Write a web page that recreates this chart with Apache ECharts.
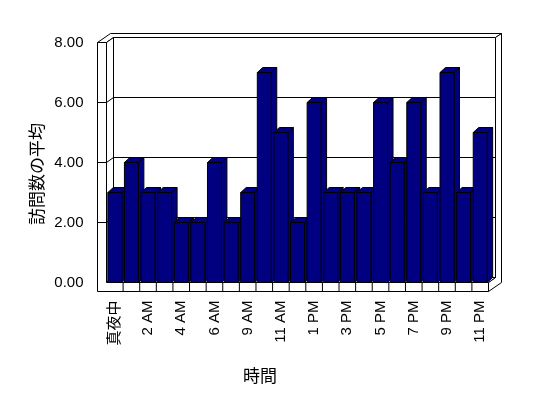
<!DOCTYPE html>
<html>
<head>
<meta charset="utf-8">
<script src="https://cdn.jsdelivr.net/npm/echarts@6/dist/echarts.min.js"></script>
<style>
html, body { margin: 0; padding: 0; background: #fff; }
#chart { width: 548px; height: 398px; }
</style>
</head>
<body>
<div id="chart"></div>
<script>
// 時間帯ごとの訪問数の平均
const hours = ['真夜中', '1 AM', '2 AM', '3 AM', '4 AM', '5 AM', '6 AM', '8 AM', '9 AM', '10 AM', '11 AM', '正午',
    '1 PM', '2 PM', '3 PM', '4 PM', '5 PM', '6 PM', '7 PM', '8 PM', '9 PM', '10 PM', '11 PM'];
const visits = [3, 4, 3, 3, 2, 2, 4, 2, 3, 7, 5, 2, 6, 3, 3, 3, 6, 4, 6, 3, 7, 3, 5];
const yTicks = [0, 2, 4, 6, 8];
const yTitle = '訪問数の平均';
const xTitle = '時間';

const FONT = "'Liberation Sans', Arial, 'Noto Sans CJK JP', sans-serif";
const NAVY = '#000080';
const WALL = 9;          // 壁・床の厚み
const D1 = [7, -5];      // 奥行き (前面 -> 背面の壁)
const D2 = [13, -9];     // 奥行き (壁の裏側まで)
const BD = [5.5, -5];    // 棒の奥行き

const line = (x1, y1, x2, y2) => ({
    type: 'line',
    shape: { x1, y1, x2, y2 },
    style: { stroke: '#000', lineWidth: 1 },
});
const poly = (points, fill) => ({
    type: 'polygon',
    shape: { points },
    style: { fill: fill, stroke: '#000', lineWidth: 1 },
});

/** 3D風の壁と床 */
function renderFrame(params, api) {
    const cs = params.coordSys;
    const L = cs.x, R = cs.x + cs.width, T = cs.y, B = cs.y + cs.height;
    const FL = L - WALL;
    const band = cs.width / hours.length;
    const kids = [];
    // 背面の壁
    kids.push(poly([[L + D1[0], T + D1[1]], [R + D1[0], T + D1[1]], [R + D1[0], B + D1[1]], [L + D1[0], B + D1[1]]], '#fff'));
    // 壁の上面
    kids.push(poly([[FL, T], [L, T], [L + D1[0], T + D1[1]], [R + D1[0], T + D1[1]],
        [R + D2[0], T + D2[1]], [FL + D2[0], T + D2[1]]], '#fff'));
    // 右側面
    kids.push(poly([[R + D1[0], T + D1[1]], [R + D2[0], T + D2[1]], [R + D2[0], B + WALL + D2[1]],
        [R, B + WALL], [R, B], [R + D1[0], B + D1[1]]], '#fff'));
    // 左の壁の内側と床の上面
    kids.push(poly([[L, T], [L + D1[0], T + D1[1]], [L + D1[0], B + D1[1]], [L, B]], '#fff'));
    kids.push(poly([[L, B], [R, B], [R + D1[0], B + D1[1]], [L + D1[0], B + D1[1]]], '#fff'));
    // 左の壁と床の前面
    kids.push(poly([[FL, T], [L, T], [L, B], [R, B], [R, B + WALL], [FL, B + WALL]], '#fff'));
    // 目盛線
    yTicks.forEach((v) => {
        if (v === 0 || v === yTicks[yTicks.length - 1]) return;
        const y = api.coord([0, v])[1];
        kids.push(line(FL, y, L, y));
        kids.push(line(L, y, L + D1[0], y + D1[1]));
        kids.push(line(L + D1[0], y + D1[1], R + D1[0], y + D1[1]));
    });
    for (let k = 1; k < hours.length; k++) {
        const x = L + k * band;
        kids.push(line(x, B, x, B + WALL));
    }
    return { type: 'group', children: kids };
}

/** 3D風の棒 */
function renderBar(params, api) {
    const top = api.coord([api.value(0), api.value(1)]);
    const base = api.coord([api.value(0), 0]);
    const w = api.size([1, 0])[0] * 0.84;
    const x0 = top[0] - w / 2, x1 = top[0] + w / 2;
    const yt = top[1], yb = base[1];
    return {
        type: 'group',
        children: [
            poly([[x1, yt], [x1 + BD[0], yt + BD[1]], [x1 + BD[0], yb + BD[1]], [x1, yb]], NAVY),
            poly([[x0, yt], [x1, yt], [x1 + BD[0], yt + BD[1]], [x0 + BD[0], yt + BD[1]]], NAVY),
            poly([[x0, yt], [x1, yt], [x1, yb], [x0, yb]], NAVY),
        ],
    };
}

const chart = echarts.init(document.getElementById('chart'));
chart.setOption({
    animation: false,
    backgroundColor: '#fff',
    grid: { left: 106.5, right: 59.5, top: 42.5, bottom: 115.5 },
    xAxis: {
        type: 'category',
        data: hours,
        axisLine: { show: false },
        axisTick: { show: false },
        axisLabel: {
            interval: 1,
            rotate: 90,
            margin: 18,
            color: '#000',
            fontSize: 15,
            fontFamily: FONT,
        },
    },
    yAxis: {
        type: 'value',
        min: 0,
        max: 8,
        interval: 2,
        axisLine: { show: false },
        axisTick: { show: false },
        splitLine: { show: false },
        axisLabel: {
            margin: 23,
            color: '#000',
            fontSize: 15,
            fontFamily: FONT,
            formatter: (v) => v.toFixed(2),
        },
    },
    graphic: [
        {
            type: 'text',
            x: 38,
            y: 174,
            rotation: Math.PI / 2,
            style: { text: yTitle, fontSize: 17, fontFamily: FONT, fill: '#000', align: 'center', verticalAlign: 'middle' },
        },
        {
            type: 'text',
            x: 260,
            y: 377,
            style: { text: xTitle, fontSize: 17, fontFamily: FONT, fill: '#000', align: 'center', verticalAlign: 'middle' },
        },
    ],
    series: [
        {
            type: 'custom',
            silent: true,
            clip: false,
            z: 1,
            renderItem: renderFrame,
            data: [[0, 0]],
        },
        {
            type: 'custom',
            clip: false,
            z: 2,
            renderItem: renderBar,
            encode: { x: 0, y: 1 },
            data: hours.map((h, i) => [i, visits[i]]),
        },
    ],
});
</script>
</body>
</html>
